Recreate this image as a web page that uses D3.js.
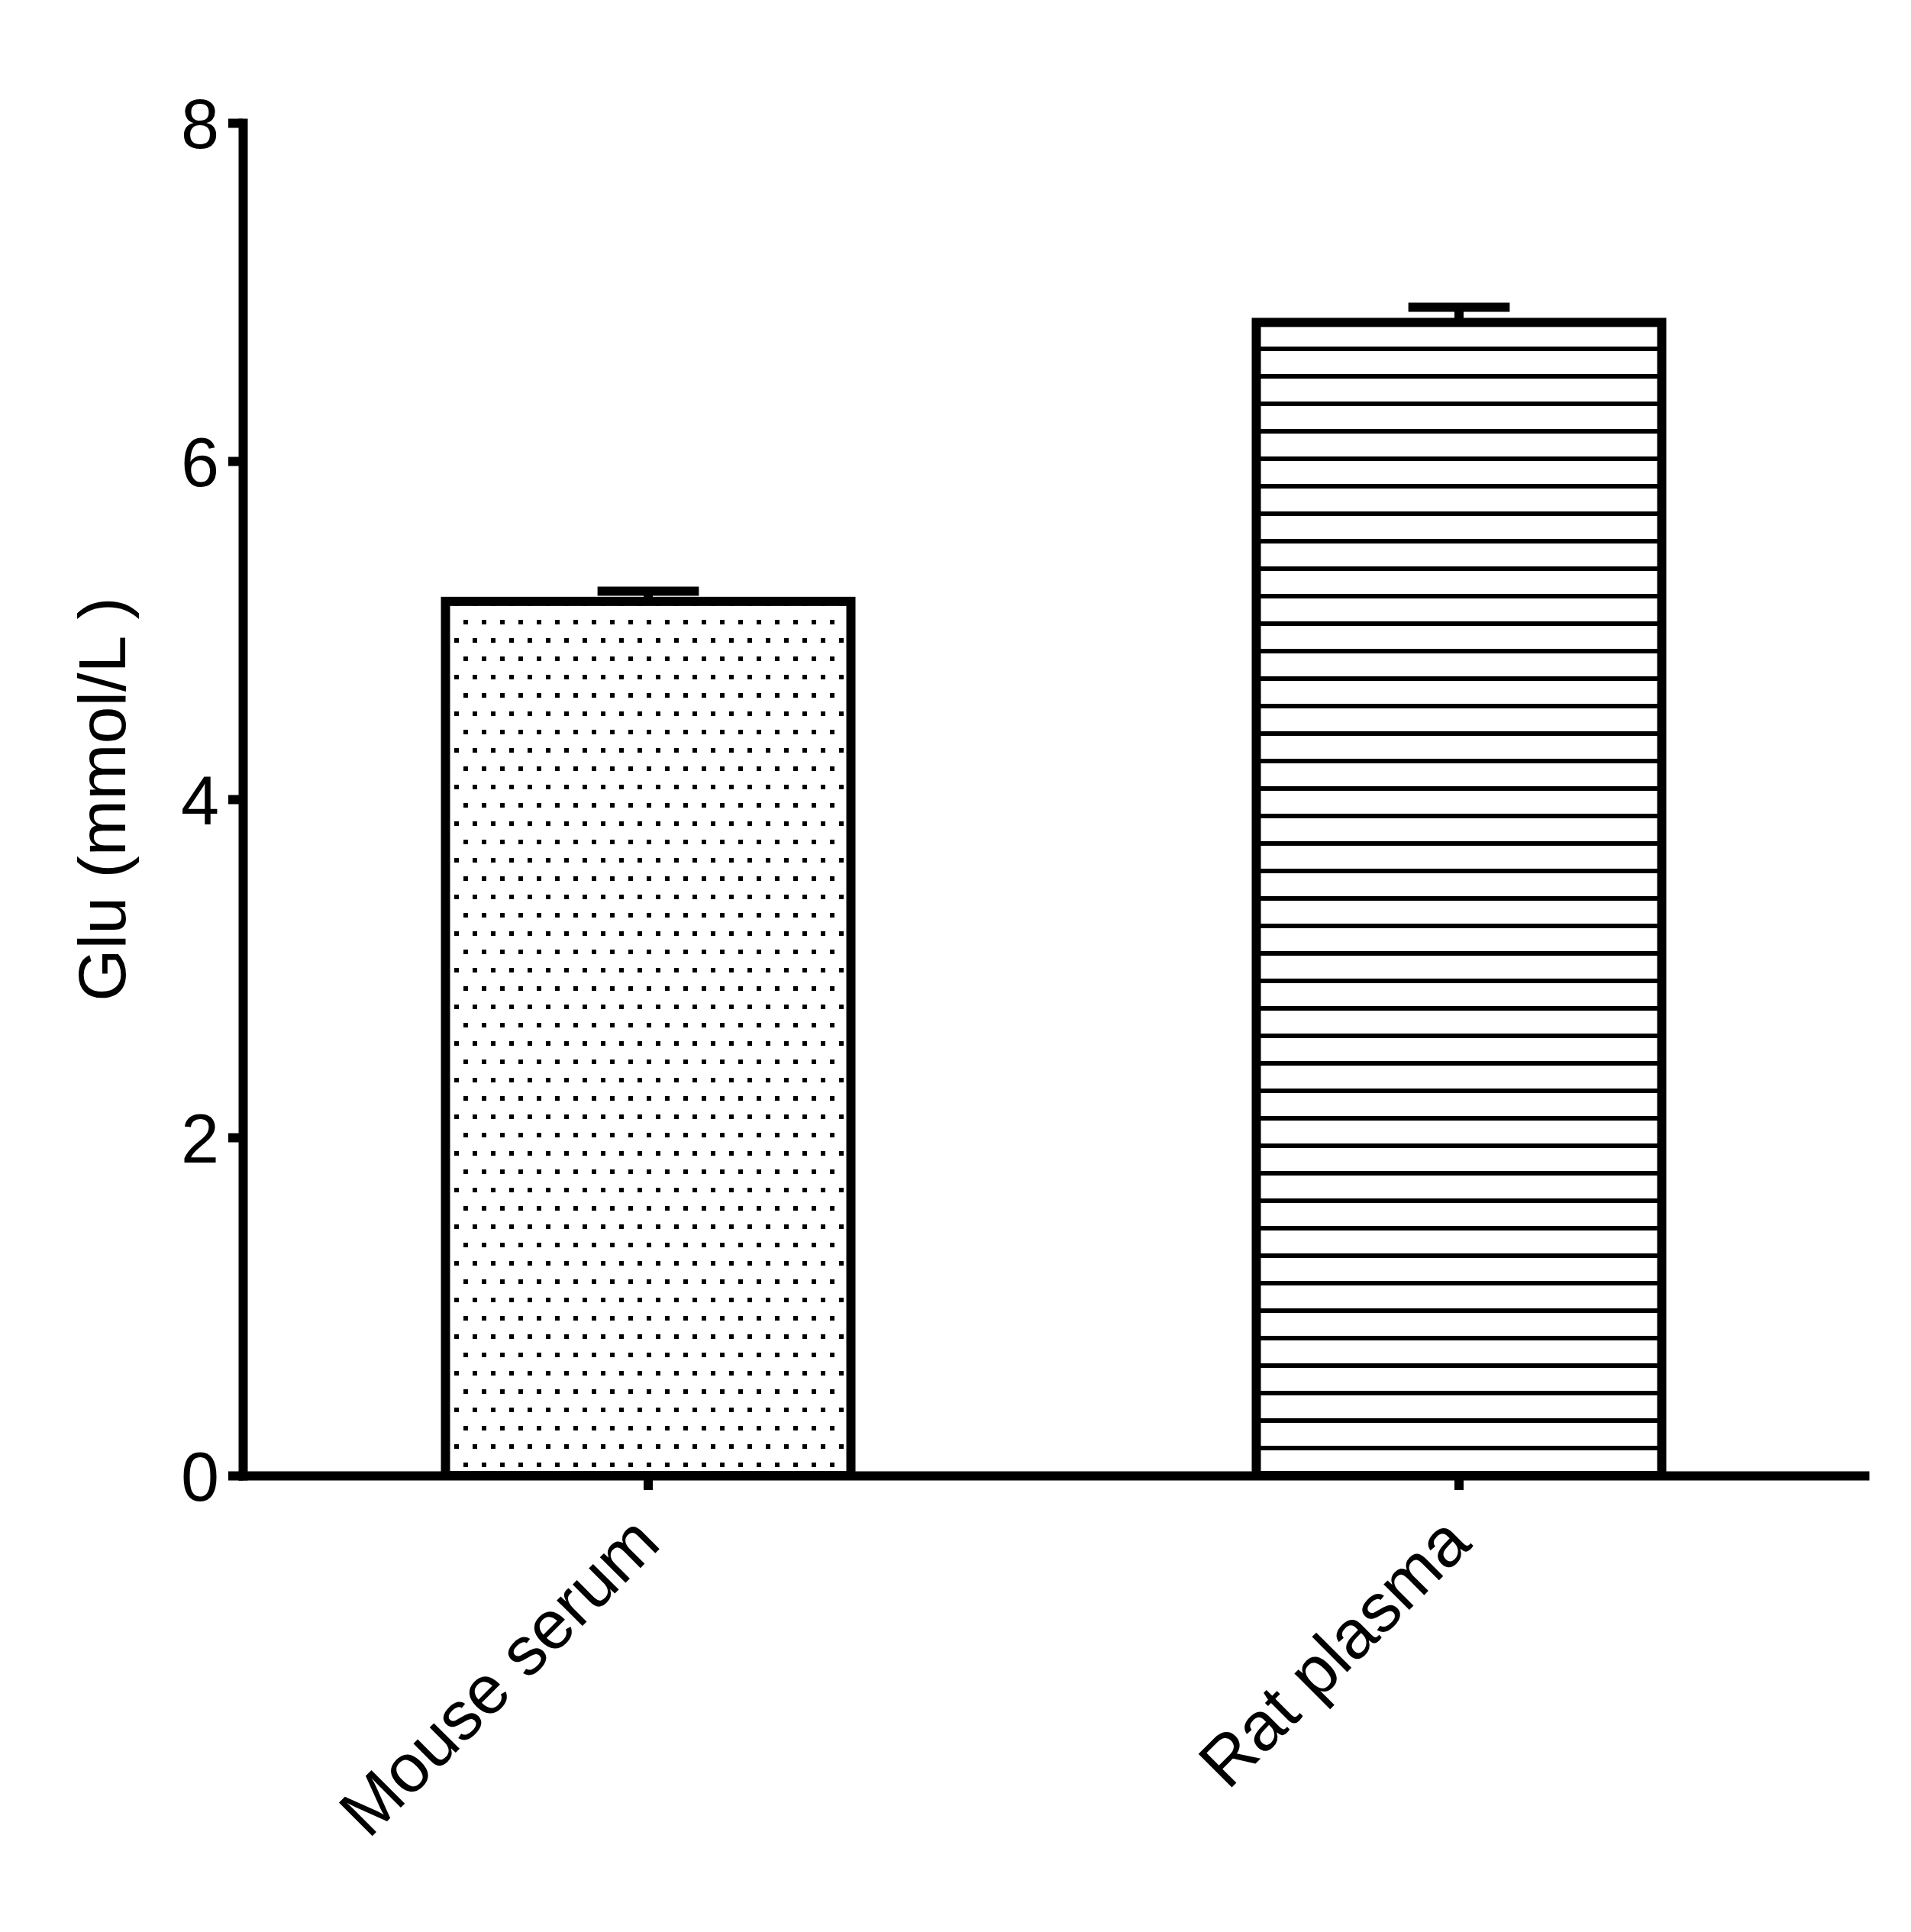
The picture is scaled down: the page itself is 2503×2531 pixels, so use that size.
<!DOCTYPE html>
<html>
<head>
<meta charset="utf-8">
<script src="https://cdn.jsdelivr.net/npm/d3@7"></script>
<style>
	body { margin: 0; background: #fff; }
	svg text { font-family: "Liberation Sans", Arial, Helvetica, sans-serif; fill: #000; }
</style>
</head>
<body>
<div id="chart-area"></div>
<script>

// values
var categories = ["Mouse serum", "Rat plasma"];
var glucoseMean = [5.17, 6.82];
var glucoseErr = [0.06, 0.09];
var yTickValues = [0, 2, 4, 6, 8];
var yDomain = [0, 8];
var yTitle = "Glu (mmol/L )";

// which fill pattern each bar gets
var barPatterns = ["dots", "hlines"];


/*
 * BarChart - column chart with SEM error bars and pattern fills
 */

BarChart = function(_parentElement, _data){
	this.parentElement = _parentElement;
	this.data = _data;

	this.initVis();
}

BarChart.prototype.initVis = function(){
	var vis = this;

	vis.margin = {top: 161, right: 61, bottom: 598, left: 318};
	vis.width = 2503 - vis.margin.left - vis.margin.right;
	vis.height = 2531 - vis.margin.top - vis.margin.bottom;

	vis.svgRoot = d3.select("#" + vis.parentElement).append("svg")
		.attr("width", 2503)
		.attr("height", 2531);

	vis.svg = vis.svgRoot.append("g")
		.attr("transform", "translate(" + vis.margin.left + "," + vis.margin.top + ")");

	vis.y = d3.scaleLinear()
		.domain(yDomain)
		.range([vis.height, 0]);

	vis.x = d3.scaleBand()
		.domain(categories)
		.range([0, vis.width])
		.paddingInner(0.5)
		.paddingOuter(0.25);

	// fill patterns (Prism style)
	var defs = vis.svgRoot.append("defs");

	var dots = defs.append("pattern")
		.attr("id", "dots")
		.attr("patternUnits", "userSpaceOnUse")
		.attr("x", 1)
		.attr("y", vis.height - 17)
		.attr("width", 24)
		.attr("height", 48);
	dots.append("rect").attr("width", 24).attr("height", 48).attr("fill", "#fff");
	dots.append("rect").attr("x", 0).attr("y", 0).attr("width", 6).attr("height", 6).attr("fill", "#000");
	dots.append("rect").attr("x", 12).attr("y", 24).attr("width", 6).attr("height", 6).attr("fill", "#000");

	var hlines = defs.append("pattern")
		.attr("id", "hlines")
		.attr("patternUnits", "userSpaceOnUse")
		.attr("x", 0)
		.attr("y", vis.height - 3)
		.attr("width", 20)
		.attr("height", 36);
	hlines.append("rect").attr("width", 20).attr("height", 36).attr("fill", "#fff");
	hlines.append("rect").attr("x", 0).attr("y", 0).attr("width", 20).attr("height", 6).attr("fill", "#000");

	vis.svg.append("g").attr("class", "bars");

	vis.svg.append("g")
		.attr("class", "x-axis axis")
		.attr("transform", "translate(0," + vis.height + ")");

	vis.svg.append("g")
		.attr("class", "y-axis axis");

	vis.svg.append("g").attr("class", "errors");

	vis.updateVis();
}

BarChart.prototype.updateVis = function(){
	var vis = this;

	// bars
	vis.svg.select(".bars").selectAll("rect")
		.data(vis.data)
		.enter()
		.append("rect")
		.attr("x", d => vis.x(d.name))
		.attr("y", d => vis.y(d.mean))
		.attr("width", vis.x.bandwidth())
		.attr("height", d => vis.y(0) - vis.y(d.mean))
		.attr("fill", (d, i) => "url(#" + barPatterns[i] + ")")
		.attr("stroke", "#000")
		.attr("stroke-width", 12);

	// axes
	var yAxis = d3.axisLeft(vis.y)
		.tickValues(yTickValues)
		.tickFormat(d3.format("d"))
		.tickSize(19)
		.tickSizeOuter(0)
		.tickPadding(12);

	var xAxis = d3.axisBottom(vis.x)
		.tickSize(19)
		.tickSizeOuter(0);

	vis.svg.select(".y-axis").call(yAxis);
	vis.svg.select(".x-axis").call(xAxis);

	vis.svg.selectAll(".axis .domain")
		.attr("stroke", "#000")
		.attr("stroke-width", 12)
		.attr("stroke-linecap", "square");

	vis.svg.selectAll(".axis .tick line")
		.attr("stroke", "#000")
		.attr("stroke-width", 12);

	vis.svg.selectAll(".y-axis .tick text")
		.style("font-size", "90px")
		.attr("dy", "0.36em");

	vis.svg.selectAll(".x-axis .tick text")
		.style("font-size", "90px")
		.attr("x", 0)
		.attr("y", 0)
		.attr("dy", null)
		.attr("text-anchor", "end")
		.attr("transform", "translate(19,92) rotate(-45)");

	// error bars (upper only)
	var capW = vis.x.bandwidth() / 4;
	var err = vis.svg.select(".errors").selectAll("g")
		.data(vis.data)
		.enter()
		.append("g");

	err.append("line")
		.attr("x1", d => vis.x(d.name) + vis.x.bandwidth() / 2)
		.attr("x2", d => vis.x(d.name) + vis.x.bandwidth() / 2)
		.attr("y1", d => vis.y(d.mean))
		.attr("y2", d => vis.y(d.mean + d.err))
		.attr("stroke", "#000")
		.attr("stroke-width", 12);

	err.append("line")
		.attr("x1", d => vis.x(d.name) + vis.x.bandwidth() / 2 - capW / 2)
		.attr("x2", d => vis.x(d.name) + vis.x.bandwidth() / 2 + capW / 2)
		.attr("y1", d => vis.y(d.mean + d.err))
		.attr("y2", d => vis.y(d.mean + d.err))
		.attr("stroke", "#000")
		.attr("stroke-width", 12);

	// y title
	vis.svgRoot.append("text")
		.attr("transform", "translate(" + (vis.margin.left - 154) + "," + (vis.margin.top + vis.height / 2) + ") rotate(-90)")
		.attr("text-anchor", "middle")
		.style("font-size", "88px")
		.text(yTitle);
}


var chartData = categories.map(function(c, i){
	return {name: c, mean: glucoseMean[i], err: glucoseErr[i]};
});

var chart = new BarChart("chart-area", chartData);

</script>
</body>
</html>
